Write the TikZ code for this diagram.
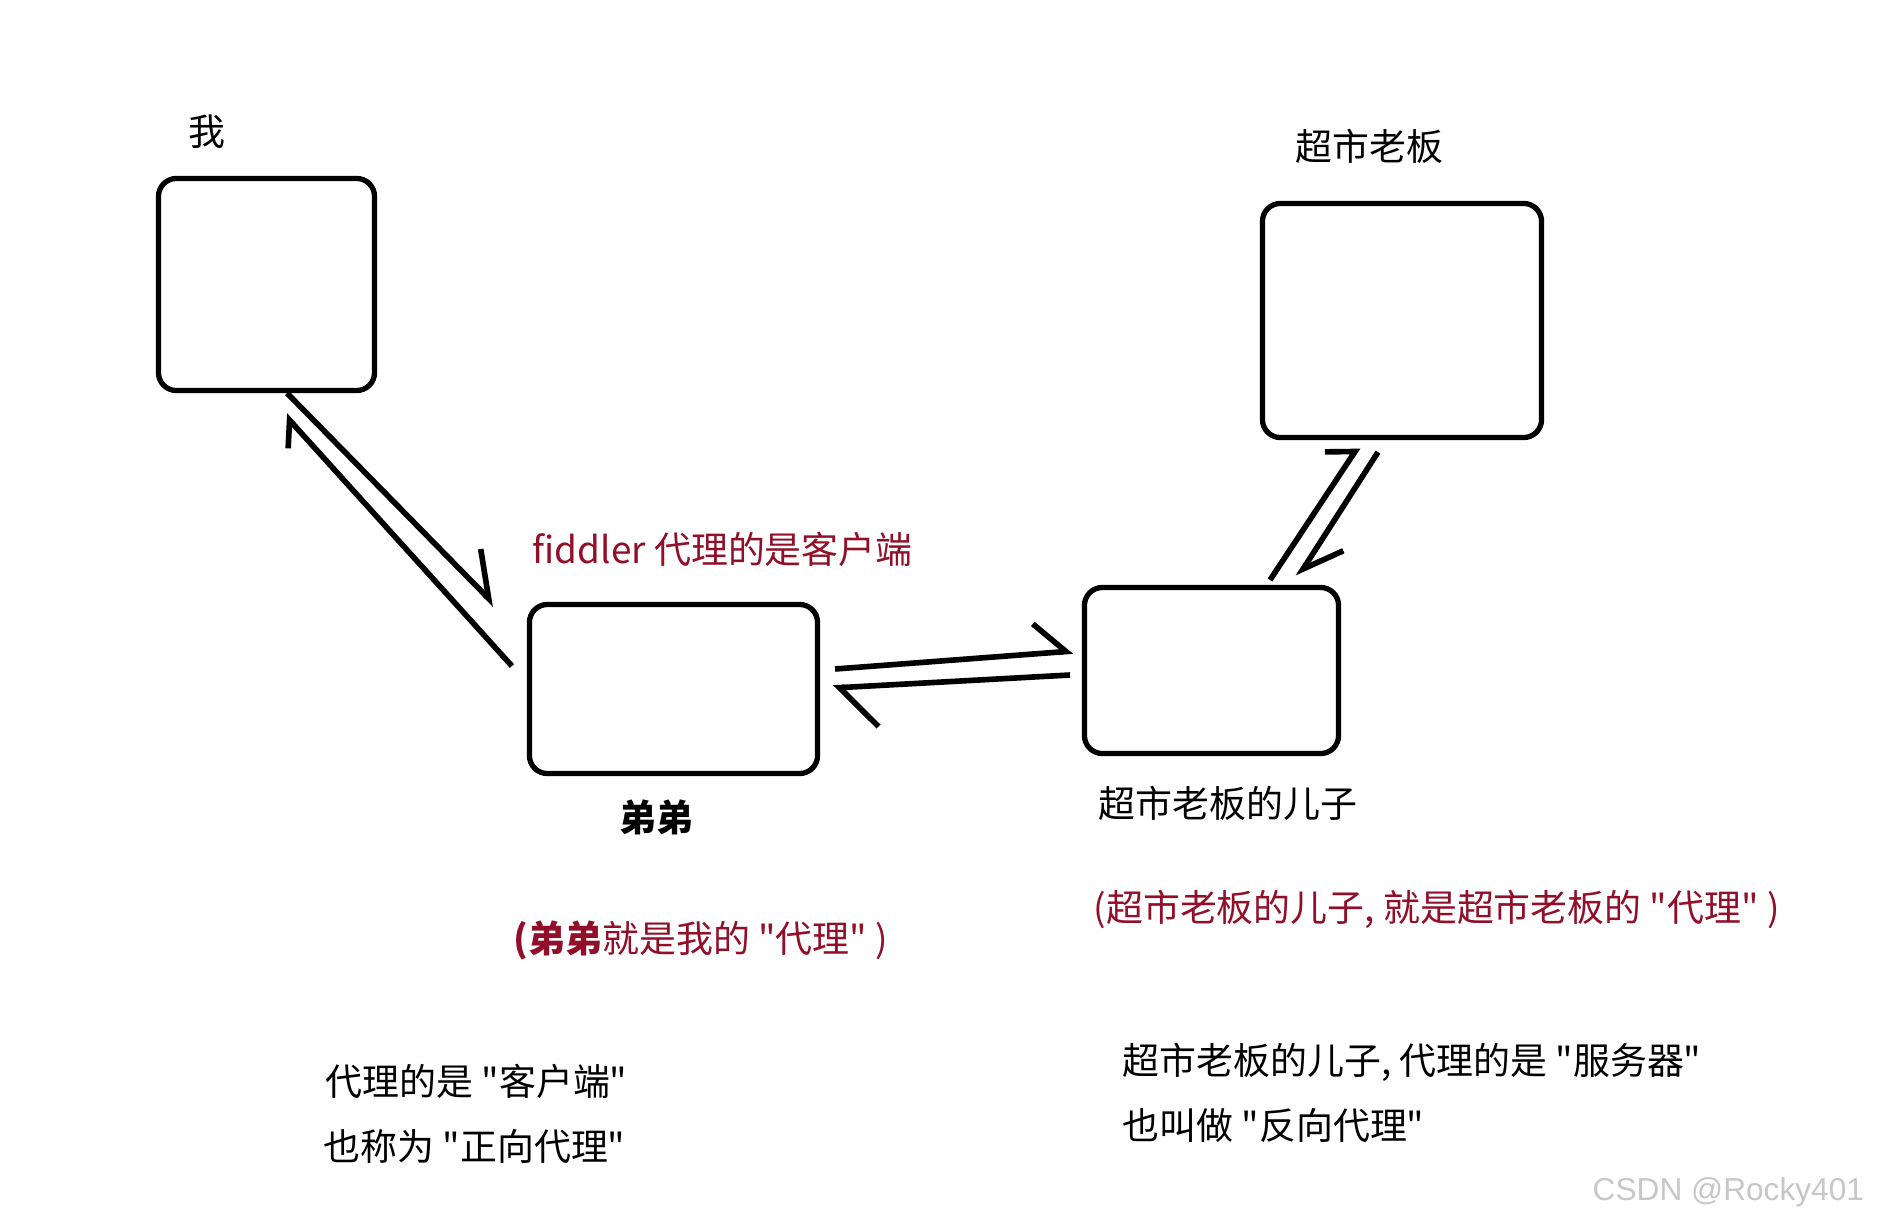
\documentclass[tikz,border=0pt]{standalone}
\usepackage{fontspec}
\setmainfont{Noto Sans CJK SC}[Ligatures=TeXOff]
\newfontfamily\markfont{Liberation Sans}
\usetikzlibrary{arrows.meta}
\definecolor{proxyred}{RGB}{145,15,40}

\begin{document}
\begin{tikzpicture}
	[x=0.01cm,y=-0.01cm,every node/.style={inner sep=0pt},
	 box/.style={draw,line width=1.5pt,rounded corners=0.18cm,outer sep=0pt},
	 note/.style={font=\fontsize{10.5pt}{12pt}\selectfont}]
	\tikzset{edge/.style 2 args={line width=1.6pt,-{Straight Barb[left,length=#1cm,width=#2cm]}}}
	\path[use as bounding box,fill=white] (0,0) rectangle (1888,1224);

	% the four parties
	\node[box,minimum width=2.16cm,minimum height=2.12cm] (me) at (266.5,284.5) {};
	\node[box,minimum width=2.88cm,minimum height=1.69cm] (didi) at (673.5,689) {};
	\node[box,minimum width=2.54cm,minimum height=1.66cm] (son) at (1211.5,670.5) {};
	\node[box,minimum width=2.79cm,minimum height=2.34cm] (boss) at (1402,320.5) {};

	\node[note] (meLabel) at (207,132) {我};
	\node[note] (bossLabel) at (1369.5,146.5) {超市老板};
	\node[note,font=\fontsize{10.5pt}{12pt}\selectfont\bfseries] (didiLabel) at (656.5,817) {弟弟};
	\node[note,anchor=west] (sonLabel) at (1098,803.5) {超市老板的儿子};
	\node[note,anchor=west,text=proxyred] (fiddler) at (532,549) {fiddler 代理的是客户端};

	% notes below
	\node[note,anchor=west,text=proxyred] (didiNote) at (513,940) {{\bfseries(弟弟}就是我的 "代理" )};
	\node[note,anchor=west,text=proxyred] (sonNote) at (1093,909) {(超市老板的儿子, 就是超市老板的 "代理" )};
	\node[note,anchor=west] (fwd1) at (325,1081) {代理的是 "客户端"};
	\node[note,anchor=west] (fwd2) at (323,1146) {也称为 "正向代理"};
	\node[note,anchor=west] (rev1) at (1122,1062) {超市老板的儿子, 代理的是 "服务器"};
	\node[note,anchor=west] (rev2) at (1122,1125) {也叫做 "反向代理"};
	\node[anchor=west,text=black!22,font=\markfont\fontsize{9pt}{11pt}\selectfont] (mark) at (1592,1192) {CSDN @Rocky401};

	% arrow ends
	\coordinate (a1) at ([shift={(20.5,2.5)}]me.south);
	\coordinate (a2) at ([shift={(-34.5,0.5)}]didi.north west);
	\coordinate (b1) at ([shift={(-17.5,-23)}]didi.west);
	\coordinate (b2) at ([shift={(18.5,24.5)}]me.south);
	\coordinate (c1) at ([shift={(17.5,-20)}]didi.east);
	\coordinate (c2) at ([shift={(-11.5,-19.5)}]son.west);
	\coordinate (d1) at ([shift={(-14.5,4.5)}]son.west);
	\coordinate (d2) at ([shift={(15.5,-1)}]didi.east);
	\coordinate (e1) at ([shift={(58.5,-7.5)}]son.north);
	\coordinate (e2) at ([shift={(-44,9.5)}]boss.south);
	\coordinate (f1) at ([shift={(-24,14.5)}]boss.south);
	\coordinate (f2) at ([shift={(86.5,-10.5)}]son.north);

	\foreach \from/\to/\len/\wid in {a1/a2/.41/.58,b1/b2/.2/.4,c1/c2/.31/.6,d1/d2/.37/.82,e1/e2/.17/.5,f1/f2/.37/.48}
	\draw[edge={\len}{\wid}] (\from) -- (\to);
\end{tikzpicture}
\end{document}
